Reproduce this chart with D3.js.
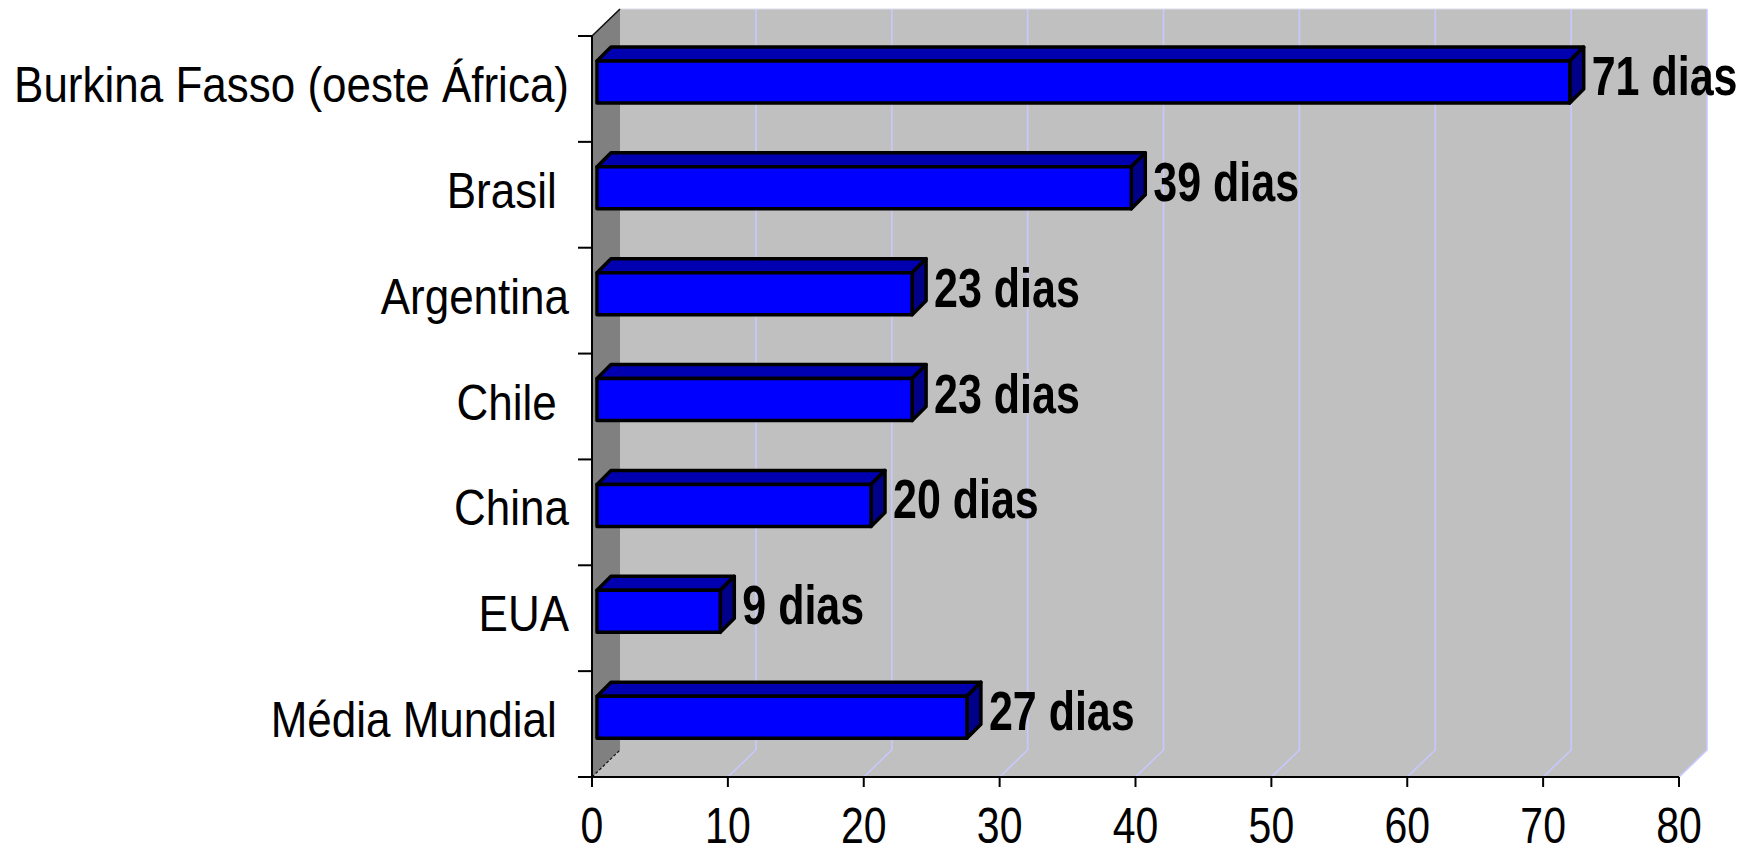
<!DOCTYPE html>
<html>
<head>
<meta charset="utf-8">
<script src="https://cdn.jsdelivr.net/npm/d3@7"></script>
<style>
  html, body { margin: 0; padding: 0; background: #ffffff; }
  svg { display: block; }
  text { font-family: "Liberation Sans", Arial, sans-serif; white-space: pre; }
</style>
</head>
<body>
<svg id="chart" width="1750" height="854"></svg>
<script>
// Dias necessários por país
const categories = ["Burkina Fasso (oeste África)", "Brasil ", "Argentina", "Chile ", "China", "EUA", "Média Mundial "];
const values = [71, 39, 23, 23, 20, 9, 27];
const valueLabels = ["71 dias", "39 dias", "23 dias", "23 dias", "20 dias", "9 dias", "27 dias"];
const xTicks = [0, 10, 20, 30, 40, 50, 60, 70, 80];

const svg = d3.select("#chart");

// Oblique 3D frame: front plane plus a receding depth offset
const wallDepth = 28;      // horizontal shift of the back wall
const wallRise = 27;       // vertical shift of the back wall
const barDepth = 14;       // depth of each bar prism
const frontTop = 36, frontBottom = 777;

const x = d3.scaleLinear().domain([0, 80]).range([592, 1679]);
// bars sit slightly inside the box, so their plane is shifted a little
const xBar = d3.scaleLinear().domain([0, 80]).range([597, 1693]);
const y = d3.scaleBand().domain(categories).range([frontTop, frontBottom]);

const x0 = x(0), x1 = x(80);

// Floor
svg.append("polygon")
  .attr("points", [[x0, frontBottom], [x0 + wallDepth, frontBottom - wallRise],
                   [x1 + wallDepth, frontBottom - wallRise], [x1, frontBottom]].join(" "))
  .attr("fill", "#c0c0c0");

// Back wall
svg.append("rect")
  .attr("x", x0 + wallDepth).attr("y", frontTop - wallRise)
  .attr("width", x1 - x0).attr("height", frontBottom - frontTop)
  .attr("fill", "#c0c0c0");

// Side wall
svg.append("polygon")
  .attr("points", [[x0, frontTop], [x0 + wallDepth, frontTop - wallRise],
                   [x0 + wallDepth, frontBottom - wallRise], [x0, frontBottom]].join(" "))
  .attr("fill", "#808080");

// Gridlines on back wall and floor
const grid = svg.append("g").attr("fill", "none").attr("stroke", "#c8c8ff").attr("stroke-width", 1.6);
xTicks.filter(t => t > 0).forEach(t => {
  const xt = x(t);
  grid.append("path")
    .attr("d", d3.line()([[xt + wallDepth, frontTop - wallRise],
                          [xt + wallDepth, frontBottom - wallRise],
                          [xt, frontBottom]]));
});
svg.append("line")
  .attr("x1", x0 + wallDepth).attr("x2", x1 + wallDepth)
  .attr("y1", frontTop - wallRise).attr("y2", frontTop - wallRise)
  .attr("stroke", "#dcdcec").attr("stroke-width", 1.2);

// Edges of the side wall
svg.append("line")
  .attr("x1", x0).attr("y1", frontTop).attr("x2", x0 + wallDepth).attr("y2", frontTop - wallRise)
  .attr("stroke", "#111").attr("stroke-width", 1.6);
svg.append("line")
  .attr("x1", x0).attr("y1", frontBottom).attr("x2", x0 + wallDepth).attr("y2", frontBottom - wallRise)
  .attr("stroke", "#111").attr("stroke-width", 1.2).attr("stroke-dasharray", "3,2");

// Bars as prisms
const bars = svg.append("g").attr("stroke", "#000").attr("stroke-width", 3.5).attr("stroke-linejoin", "round");
categories.forEach((c, i) => {
  const fy = y(c) + 25, fy2 = y(c) + 67;
  const xb = xBar(0), xe = xBar(values[i]);
  const d = barDepth;
  bars.append("polygon")
    .attr("points", [[xb, fy], [xb + d, fy - d], [xe + d, fy - d], [xe, fy]].join(" "))
    .attr("fill", "#0000b0");
  bars.append("polygon")
    .attr("points", [[xe, fy], [xe + d, fy - d], [xe + d, fy2 - d], [xe, fy2]].join(" "))
    .attr("fill", "#000088");
  bars.append("rect")
    .attr("x", xb).attr("y", fy).attr("width", xe - xb).attr("height", fy2 - fy)
    .attr("fill", "#0000ff");

  // value label
  svg.append("text")
    .attr("transform", `translate(${xe + 22},${fy2 - 8}) scale(1,1.27)`)
    .attr("font-size", 43).attr("font-weight", "bold").attr("fill", "#000")
    .text(valueLabels[i]);
});

// Category axis
const yAxis = svg.append("g");
yAxis.append("line")
  .attr("x1", x0).attr("x2", x0).attr("y1", frontTop).attr("y2", frontBottom)
  .attr("stroke", "#000").attr("stroke-width", 2);
const boundaries = categories.map(c => y(c)).concat([frontBottom]);
boundaries.forEach(b => {
  yAxis.append("line")
    .attr("x1", x0 - 14).attr("x2", x0).attr("y1", b).attr("y2", b)
    .attr("stroke", "#000").attr("stroke-width", 2);
});
categories.forEach(c => {
  yAxis.append("text")
    .attr("transform", `translate(569,${y(c) + 66}) scale(1,1.12)`)
    .attr("text-anchor", "end").attr("font-size", 44).attr("fill", "#000")
    .text(c);
});

// Value axis
const xAxis = svg.append("g");
xAxis.append("line")
  .attr("x1", x0).attr("x2", x1).attr("y1", frontBottom).attr("y2", frontBottom)
  .attr("stroke", "#000").attr("stroke-width", 2);
xTicks.forEach(t => {
  xAxis.append("line")
    .attr("x1", x(t)).attr("x2", x(t)).attr("y1", frontBottom).attr("y2", frontBottom + 10)
    .attr("stroke", "#000").attr("stroke-width", 2);
  xAxis.append("text")
    .attr("transform", `translate(${x(t)},843) scale(1,1.2)`)
    .attr("text-anchor", "middle").attr("font-size", 41).attr("fill", "#000")
    .text(t);
});
</script>
</body>
</html>
